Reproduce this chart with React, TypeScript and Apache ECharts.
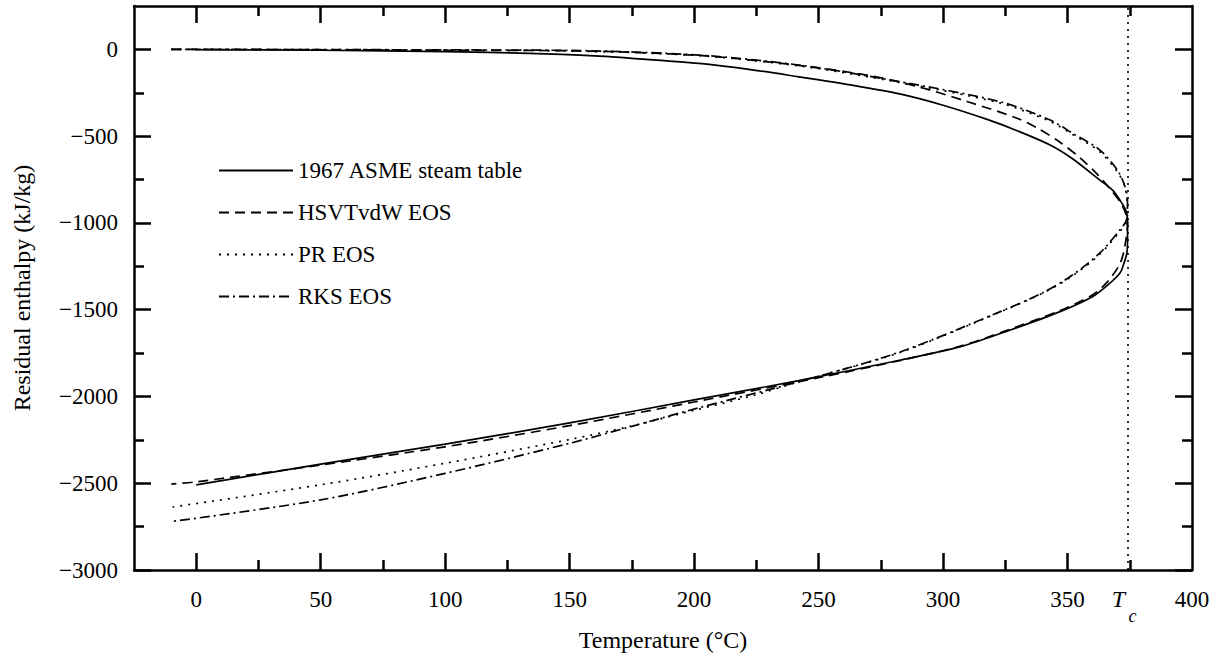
import React, { useEffect, useRef } from 'react';
import * as echarts from 'echarts';

const TC = 374.1;
const xLabelValues = [0, 50, 100, 150, 200, 250, 300, 350, 400];
const xMajorTicks = [0, 50, 100, 150, 200, 250, 300, 350];
const xMinorTicks = [25, 75, 125, 175, 225, 275, 325, 375];
const yMajorTicks = [-3000, -2500, -2000, -1500, -1000, -500, 0];
const yMinorTicks = [-2750, -2250, -1750, -1250, -750, -250];

const seriesNames = ['1967 ASME steam table', 'HSVTvdW EOS', 'PR EOS', 'RKS EOS'];

// [temperature °C, residual enthalpy kJ/kg] — vapour branch out, liquid branch back
const asme = [
  [0, -2], [50, -5], [100, -13], [134, -23], [162, -39], [174, -50], [202, -81], [222, -115],
  [242, -158], [262, -203], [283, -258], [300, -322], [318, -405], [330, -470], [343, -551],
  [352, -630], [363, -753], [368, -810], [371, -868], [373.5, -930], [374.1, -990],
  [374.1, -1100], [373.8, -1175], [372.5, -1240], [371, -1290], [366, -1360], [360, -1425],
  [347, -1511], [327, -1617], [307, -1713], [283, -1790], [242, -1909], [200, -2020],
  [150, -2152], [100, -2275], [50, -2390], [0, -2509],
];
const hsvtvdw = [
  [-10, 0], [50, -2], [100, -5], [150, -8], [202, -35], [242, -92], [270, -150], [290, -215],
  [310, -302], [330, -398], [338, -455], [347, -535], [355, -625], [362, -720], [368, -820],
  [372, -900], [374.1, -1000],
  [373.2, -1120], [371.2, -1231], [366, -1340], [360, -1415], [347, -1505], [327, -1612],
  [307, -1710], [283, -1792], [250, -1892], [200, -2032], [150, -2168], [100, -2290],
  [50, -2395], [0, -2492], [-10, -2505],
];
const pr = [
  [-10, 0], [50, -1], [100, -4], [150, -9], [202, -36], [242, -95], [283, -192], [323, -310],
  [343, -415], [352, -490], [363, -590], [370, -705], [373, -790], [374.1, -940],
  [373.5, -1000], [371, -1050], [363, -1180], [352, -1305], [340, -1405], [323, -1513],
  [283, -1745], [242, -1915], [225, -1990], [200, -2080], [175, -2170], [150, -2248],
  [100, -2385], [50, -2509], [-10, -2638],
];
const rks = [
  [-10, 0], [50, -1], [100, -3], [150, -6], [202, -33], [242, -90], [283, -187], [323, -302],
  [343, -407], [352, -483], [363, -580], [370, -695], [372.6, -771], [374, -849], [374.1, -930],
  [373.5, -990], [371, -1041], [363, -1173], [352, -1300], [340, -1403], [323, -1511],
  [283, -1742], [242, -1915], [202, -2065], [175, -2172], [150, -2270], [100, -2443],
  [50, -2596], [-10, -2721],
];

const FONT = '"Liberation Serif", "Times New Roman", serif';
const fmt = (v: number) => (v < 0 ? '\u2212' + Math.abs(v) : String(v));

export default function App() {
  const ref = useRef<HTMLDivElement>(null);
  useEffect(() => {
    const chart = echarts.init(ref.current!, null, { renderer: 'svg' });
    const axisLine = { show: true, onZero: false, lineStyle: { color: '#000', width: 2.5 } };
    const noLine = { show: false, onZero: false };
    const tickStyle = { color: '#000', width: 2.5 };
    const xBase = { type: 'value', min: -25, max: 400, splitLine: { show: false } };
    const yBase = { type: 'value', min: -3000, max: 250, splitLine: { show: false } };
    const lineBase = (name: string, data: number[][], type: any) => ({
      name,
      type: 'line',
      data,
      symbol: 'none',
      showSymbol: false,
      smooth: 0.3,
      xAxisIndex: 0,
      yAxisIndex: 0,
      lineStyle: { color: '#000', width: 1.7, type },
      itemStyle: { color: '#000' },
      z: 3,
    });
    const series: any[] = [
      lineBase(seriesNames[0], asme, 'solid'),
      lineBase(seriesNames[1], hsvtvdw, [10, 6]),
      lineBase(seriesNames[2], pr, [2, 6]),
      lineBase(seriesNames[3], rks, [10, 4, 2, 4]),
    ];
    series[0].markLine = {
      silent: true,
      symbol: 'none',
      label: { show: false },
      lineStyle: { color: '#000', width: 1.6, type: [2, 5] },
      data: [{ xAxis: TC }],
    };
    const option: any = {
      animation: false,
      backgroundColor: '#fff',
      grid: { left: 134, right: 27, top: 6, bottom: 93, containLabel: false },
      legend: {
        orient: 'vertical',
        left: 213,
        top: 154,
        padding: 5,
        itemWidth: 74,
        itemHeight: 14,
        itemGap: 19,
        data: seriesNames,
        itemStyle: { opacity: 0 },
        textStyle: { fontFamily: FONT, fontSize: 23, color: '#000' },
        selectedMode: false,
      },
      xAxis: [
        {
          ...xBase,
          position: 'bottom',
          axisLine,
          axisTick: { show: true, inside: true, length: 17, customValues: xMajorTicks, lineStyle: tickStyle },
          axisLabel: { show: true, customValues: xLabelValues, fontFamily: FONT, fontSize: 23, color: '#000', margin: 18, formatter: fmt },
          name: 'Temperature (\u00B0C)',
          nameLocation: 'middle',
          nameGap: 58,
          nameTextStyle: { fontFamily: FONT, fontSize: 24, color: '#000' },
        },
        {
          ...xBase,
          position: 'bottom',
          axisLine: noLine,
          axisTick: { show: true, inside: true, length: 10, customValues: xMinorTicks, lineStyle: tickStyle },
          axisLabel: { show: false },
        },
        {
          ...xBase,
          position: 'top',
          axisLine,
          axisTick: { show: true, inside: true, length: 17, customValues: xMajorTicks, lineStyle: tickStyle },
          axisLabel: { show: false },
        },
        {
          ...xBase,
          position: 'top',
          axisLine: noLine,
          axisTick: { show: true, inside: true, length: 10, customValues: xMinorTicks, lineStyle: tickStyle },
          axisLabel: { show: false },
        },
      ],
      yAxis: [
        {
          ...yBase,
          position: 'left',
          axisLine,
          axisTick: { show: true, inside: true, length: 17, customValues: yMajorTicks, lineStyle: tickStyle },
          axisLabel: { show: true, customValues: yMajorTicks, fontFamily: FONT, fontSize: 23, color: '#000', margin: 16, formatter: fmt },
          name: 'Residual enthalpy (kJ/kg)',
          nameLocation: 'middle',
          nameGap: 100,
          nameTextStyle: { fontFamily: FONT, fontSize: 24, color: '#000' },
        },
        {
          ...yBase,
          position: 'left',
          axisLine: noLine,
          axisTick: { show: true, inside: true, length: 10, customValues: yMinorTicks, lineStyle: tickStyle },
          axisLabel: { show: false },
        },
        {
          ...yBase,
          position: 'right',
          axisLine,
          axisTick: { show: true, inside: true, length: 17, customValues: yMajorTicks, lineStyle: tickStyle },
          axisLabel: { show: false },
        },
        {
          ...yBase,
          position: 'right',
          axisLine: noLine,
          axisTick: { show: true, inside: true, length: 10, customValues: yMinorTicks, lineStyle: tickStyle },
          axisLabel: { show: false },
        },
      ],
      series,
    };
    chart.setOption(option);
    const px = chart.convertToPixel({ xAxisIndex: 0 } as any, TC) as unknown as number;
    const py = chart.convertToPixel({ yAxisIndex: 0 } as any, -3000) as unknown as number;
    chart.setOption({
      graphic: [
        {
          type: 'text',
          x: px - 9,
          y: py + 29,
          style: { text: 'T', font: 'italic 24px ' + FONT, fill: '#000', align: 'center', verticalAlign: 'middle' },
        },
        {
          type: 'text',
          x: px + 5,
          y: py + 46,
          style: { text: 'c', font: 'italic 18px ' + FONT, fill: '#000', align: 'center', verticalAlign: 'middle' },
        },
      ],
    });
    return () => chart.dispose();
  }, []);
  return (
    <div
      ref={ref}
      style={{ position: 'fixed', left: 0, top: 0, width: 1219, height: 663, background: '#fff' }}
    />
  );
}
